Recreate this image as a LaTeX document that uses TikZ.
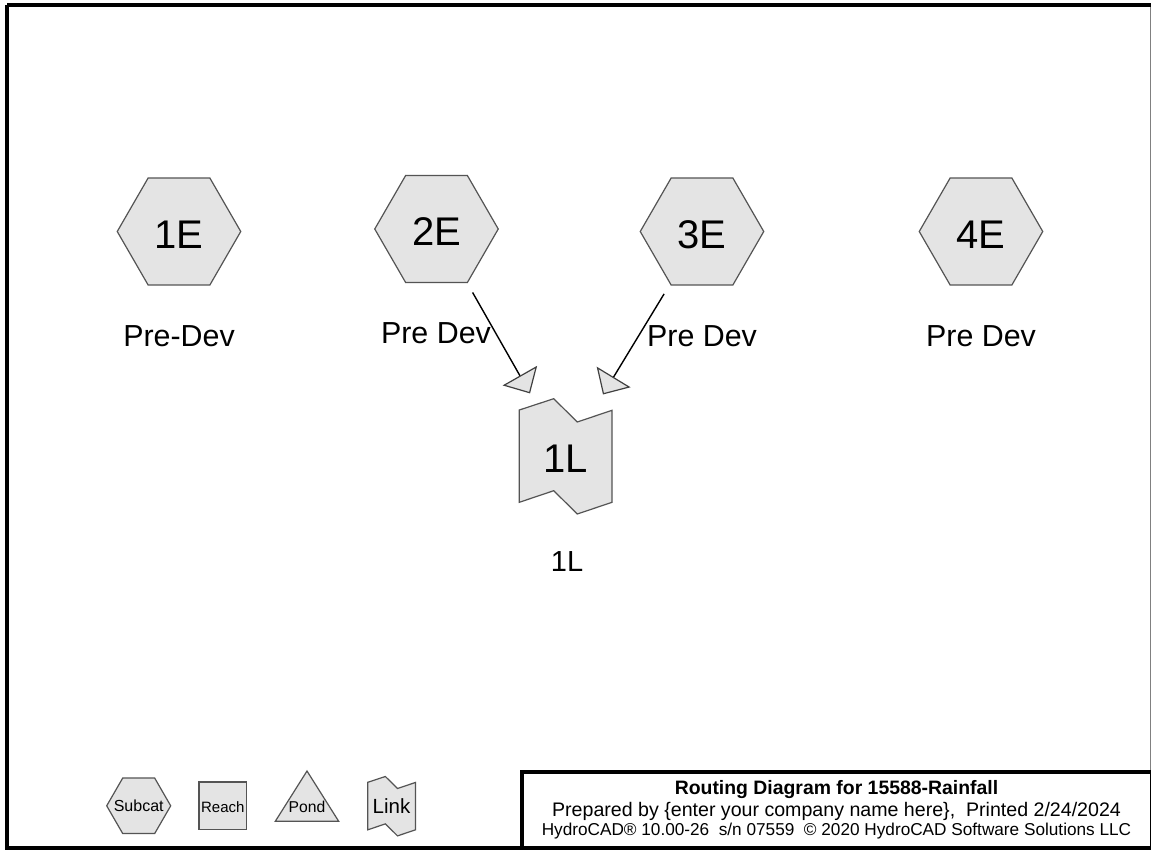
\documentclass[tikz,border=0pt]{standalone}
\usepackage{fontspec}
\setmainfont{Liberation Sans}
\usetikzlibrary{shapes.geometric,arrows.meta}
\definecolor{shapefill}{gray}{0.894}
\definecolor{shapeline}{gray}{0.33}
\newcommand{\fsz}[1]{\fontsize{#1pt}{#1pt}\selectfont}
\newcommand{\lowered}[1]{\raisebox{-16.8pt}[0pt][0pt]{#1}}
\tikzset{
  x=1pt,y=-1pt,
  hexnode/.style={regular polygon,regular polygon sides=6,minimum size=#1,inner sep=0pt,
    draw=shapeline,fill=shapefill,line width=1.2pt},
  bigtext/.style={font=\fsz{40}},
  labeltext/.style={font=\fsz{30.4}},
  flowarrow/.style={line width=1.4pt,black,shorten <=73pt,shorten >=72pt,
    -{Triangle[length=20.5pt,width=39.5pt,fill=shapefill,color=black!75,line width=1.2pt]}},
  linkoutline/.style={draw=shapeline,fill=shapefill,line width=1.2pt,line join=miter},
  frameline/.style={draw=black,line width=3.8pt},
  pics/linkshape/.style={code={
    \path[linkoutline] (-46.3,-46) -- (-11.9,-57.3) -- (11.7,-34) -- (46.4,-45.7)
      -- (46.4,46.3) -- (11.7,58) -- (-11.9,34.7) -- (-46.3,46.3) -- cycle;}}
}
\begin{document}
\begin{tikzpicture}
\useasboundingbox (0,0) rectangle (1151,849);
\fill[white] (0,0) rectangle (1151,849);
\begin{scope}
\clip (0,0) rectangle (1151,849);
% outer frame
\draw[gray,line width=1pt] (1150.5,5) -- (1150.5,772);
\draw[frameline] (7.3,5.3) -- (1153,5.3);
\draw[frameline] (7.3,5.3) -- (7.3,848);
\draw[frameline] (5,848) -- (1153,848);
% title box
\node[draw=black,line width=3.6pt,minimum width=631pt,minimum height=76pt,inner sep=0pt] (titlebox) at (837.5,810) {};
\draw[black,line width=1pt] (1150.5,772) -- (1150.5,849);
\end{scope}
\node[font=\fsz{19.4}\bfseries,inner sep=0pt] (t1) at (836.5,789.5) {Routing Diagram for 15588-Rainfall};
\node[font=\fsz{19.6},inner sep=0pt] (t2) at (836.5,811) {Prepared by \{enter your company name here\},\ \ Printed 2/24/2024};
\node[font=\fsz{17.2},inner sep=0pt] (t3) at (836.5,831) {HydroCAD® 10.00-26\ \ s/n 07559\ \ © 2020 HydroCAD Software Solutions LLC};
% hexagons
\node[hexnode=123.5pt,bigtext] (n1E) at (179,231.5) {\lowered{1E}};
\node[hexnode=123.5pt,bigtext] (n2E) at (436.5,229) {\lowered{2E}};
\node[hexnode=123.5pt,bigtext] (n3E) at (702,231.5) {\lowered{3E}};
\node[hexnode=123.5pt,bigtext] (n4E) at (981,231.5) {\lowered{4E}};
% link
\pic at (565.6,456) {linkshape};
\node[bigtext,inner sep=0pt] (n1L) at (565.6,456) {\lowered{1L}};
% labels
\node[labeltext] (l1) at (179,336) {Pre-Dev};
\node[labeltext] (l2) at (436,333) {Pre Dev};
\node[labeltext] (l3) at (702,336) {Pre Dev};
\node[labeltext] (l4) at (981,336) {Pre Dev};
\node[font=\fsz{29}] (l5) at (567,561.5) {1L};
% connectors
\draw[flowarrow] (n2E.center) -- (n1L.center);
\draw[flowarrow] (n3E.center) -- (n1L.center);
% legend
\node[hexnode=64pt,font=\fsz{16}] (lgS) at (138.7,805.8) {\makebox[0pt]{Subcat}};
\node[draw=shapeline,fill=shapefill,line width=1.2pt,minimum width=47.7pt,minimum height=47.3pt,inner sep=0pt] (lgR) at (222.8,805.6) {};
\node[font=\fsz{15},inner sep=0pt] (lgRt) at (222.8,807) {Reach};
\draw[draw=shapeline,fill=shapefill,line width=1.2pt] (307,771) -- (338.7,821.3) -- (275.3,821.3) -- cycle;
\node[font=\fsz{15.7},inner sep=0pt] (lgP) at (307,806.5) {Pond};
\pic[scale=0.515] at (391.5,806) {linkshape};
\node[font=\fsz{20.5},inner sep=0pt] (lgL) at (391.5,806) {Link};
\end{tikzpicture}
\end{document}
